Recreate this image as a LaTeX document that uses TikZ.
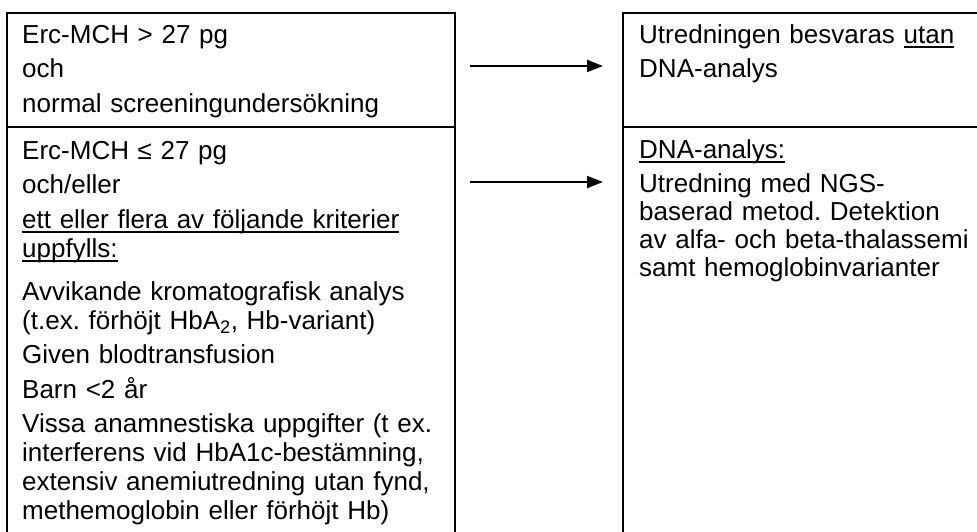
\documentclass[tikz,border=0pt]{standalone}
\usepackage{fontspec}
\setmainfont{Liberation Sans}
\usepackage{tikz}
\usetikzlibrary{shapes,positioning,calc}
\usetikzlibrary{arrows.meta}
\tikzstyle{cell} = [rectangle, draw=black, line width=2pt, anchor=north west, inner sep=0pt, outer sep=0pt]
\tikzstyle{txt} = [anchor=north west, inner sep=0pt, align=left, text width=440pt, font=\fontsize{26}{29}\selectfont\frenchspacing]
\tikzstyle{arrow} = [line width=2pt, -{Triangle[length=16pt,width=12pt]}]
\newcommand{\streck}[1]{\leavevmode\setbox0\hbox{#1}\rlap{\rule[-5pt]{\wd0}{1.8pt}}\box0}

\begin{document}
\begin{tikzpicture}[x=1pt,y=-1pt]
	\useasboundingbox (0,0) rectangle (977,532);
	\clip (0,0) rectangle (977,532);
	\node[cell, minimum width=448pt, minimum height=114pt] (hoeg) at (7,13) {};
	\node[cell, minimum width=448pt, minimum height=500pt] (laag) at (hoeg.south west) {};
	\node[cell, minimum width=500pt, minimum height=114pt] (utan) at (623,13) {};
	\node[cell, minimum width=500pt, minimum height=500pt] (dna) at (utan.south west) {};
	\node[txt] (hoeg-t) at (22,22.7) {\strut Erc-MCH > 27 pg\\[5.5pt]
		och\\[5.5pt]
		normal screeningundersökning};
	\node[txt] (laag-t) at (22,138.7) {\strut Erc-MCH ≤ 27 pg\\[5.5pt]
		och/eller\\[5.5pt]
		\streck{ett eller flera av följande kriterier}\\
		\streck{uppfylls:}\\[14pt]
		Avvikande kromatografisk analys\\
		(t.ex. förhöjt HbA\textsubscript{2}, Hb-variant)\\[5.5pt]
		Given blodtransfusion\\[5.5pt]
		Barn <2 år\\[5.5pt]
		Vissa anamnestiska uppgifter (t ex.\\
		interferens vid HbA1c-bestämning,\\
		extensiv anemiutredning utan fynd,\\
		methemoglobin eller förhöjt Hb)};
	\node[txt] (utan-t) at (639,22.7) {\strut Utredningen besvaras \streck{utan}\\[5.5pt]
		DNA-analys};
	\node[txt] (dna-t) at (639,137.7) {\strut\streck{DNA-analys:}\\[5pt]
		Utredning med NGS-\\[-1pt]
		baserad metod. Detektion\\[-1pt]
		av alfa- och beta-thalassemi\\[-1pt]
		samt hemoglobinvarianter};
	% pilar mellan rutorna
	\coordinate (p1) at (0,66);
	\coordinate (p2) at (0,182);
	\draw[arrow, shorten <=15pt, shorten >=20pt] (hoeg.east |- p1) -- (utan.west |- p1);
	\draw[arrow, shorten <=15pt, shorten >=20pt] (laag.east |- p2) -- (dna.west |- p2);
\end{tikzpicture}
\end{document}
